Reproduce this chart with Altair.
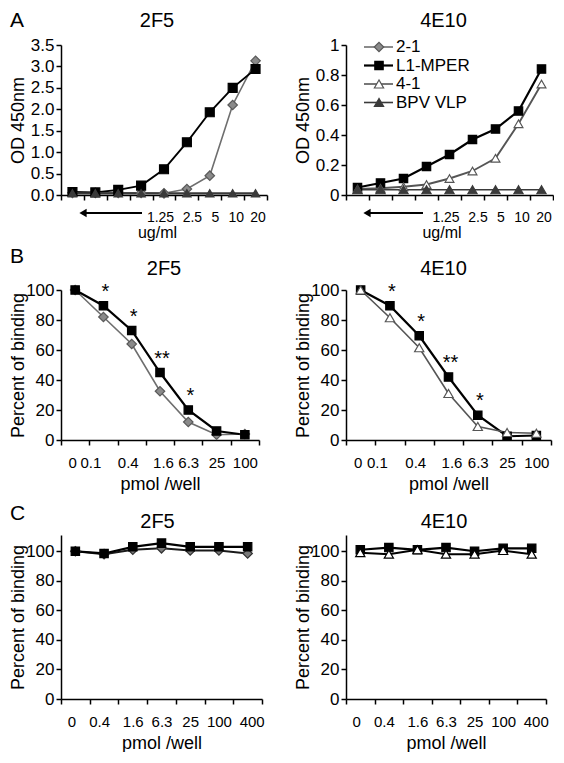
import altair as alt
import pandas as pd

FONT = "Liberation Sans"
SERIES = ["2-1", "L1-MPER", "4-1", "BPV VLP"]

# ---------------- Panel A : OD 450nm vs ug/ml ----------------
A_xlabels = ["", "", "", "", "1.25", "2.5", "5", "10", "20"]
A_2F5 = {
    "2-1":     [0.05, 0.05, 0.05, 0.05, 0.04, 0.14, 0.45, 2.10, 3.13],
    "L1-MPER": [0.07, 0.06, 0.12, 0.22, 0.60, 1.23, 1.93, 2.50, 2.94],
    "BPV VLP": [0.04, 0.04, 0.04, 0.04, 0.04, 0.04, 0.04, 0.04, 0.04],
}
A_4E10 = {
    "L1-MPER": [0.05, 0.08, 0.11, 0.19, 0.27, 0.37, 0.44, 0.56, 0.84],
    "4-1":     [0.04, 0.045, 0.055, 0.07, 0.11, 0.16, 0.245, 0.475, 0.74],
    "BPV VLP": [0.035, 0.035, 0.035, 0.035, 0.035, 0.035, 0.035, 0.035, 0.035],
}
A_2F5_ticks = [0, 0.5, 1.0, 1.5, 2.0, 2.5, 3.0, 3.5]
A_4E10_ticks = [0, 0.2, 0.4, 0.6, 0.8, 1.0]

# ---------------- Panel B : competition ----------------
B_xlabels = ["0", "0.1", "0.4", "1.6", "6.3", "25", "100"]
B_2F5 = {
    "2-1":     [100, 82, 64, 32.5, 12, 3.5, 4],
    "L1-MPER": [100, 89.5, 73, 45, 20, 6, 3.5],
}
B_4E10 = {
    "4-1":     [100, 81.5, 61.5, 31, 9, 5, 4.5],
    "L1-MPER": [100, 89.5, 69.5, 42, 16.5, 2.5, 3],
}
B_star_idx = [1, 2, 3, 4]
B_star_txt = ["*", "*", "**", "*"]

# ---------------- Panel C : control competition ----------------
C_xlabels = ["0", "0.4", "1.6", "6.3", "25", "100", "400"]
C_2F5 = {
    "2-1":     [100, 98, 101, 102, 100.5, 100.5, 98.5],
    "L1-MPER": [100, 98.5, 103, 105.5, 103, 103, 103],
}
C_4E10 = {
    "4-1":     [99, 98, 101, 98, 98, 100.5, 98],
    "L1-MPER": [101, 102.5, 101, 102.5, 100, 102, 102],
}
pct_ticks = [0, 20, 40, 60, 80, 100]

STYLE = {
    "2-1":     dict(shape="diamond", fill="#8a8a8a", stroke="#5a5a5a", line="#6e6e6e", lw=1.6, size=90),
    "L1-MPER": dict(shape="square", fill="#000000", stroke="#000000", line="#000000", lw=2.2, size=70),
    "4-1":     dict(shape="triangle-up", fill="#ffffff", stroke="#555555", line="#555555", lw=1.6, size=85),
    "BPV VLP": dict(shape="triangle-up", fill="#3a3a3a", stroke="#3a3a3a", line="#3a3a3a", lw=1.6, size=85),
}
STYLE_C = {
    "2-1":     dict(shape="diamond", fill="#7a7a7a", stroke="#333333", line="#1a1a1a", lw=2.0, size=90),
    "L1-MPER": dict(shape="square", fill="#000000", stroke="#000000", line="#000000", lw=2.2, size=70),
    "4-1":     dict(shape="triangle-up", fill="#ffffff", stroke="#000000", line="#000000", lw=2.0, size=85),
}

ONE = pd.DataFrame({"k": [0]})


def text_at(txt, x, y, size, align="center"):
    return alt.Chart(ONE).mark_text(fontSize=size, font=FONT, align=align, baseline="middle",
                                    color="black").encode(
        x=alt.value(x), y=alt.value(y), text=alt.value(txt))


def panel(data, xlabels, ydom, yvals, yfmt, ytitle, xtitle, title, w, h, style,
          tdx, ty, xlab_size, xtitle_size, xtitle_pad, xtitle_x=None, stars=None,
          letter=None, letter_y=0, arrow=None, legend=False, label_shift=None):
    order = [s for s in SERIES if s in data]
    rows = []
    for s in order:
        for i, v in enumerate(data[s]):
            rows.append({"xi": i, "value": v, "series": s})
    df = pd.DataFrame(rows)
    n = len(xlabels)
    lab_expr = "[" + ",".join("'%s'" % l for l in xlabels) + "][datum.value]"
    xaxis = dict(title=xtitle, tickBand="extent", labelExpr=lab_expr, labelAngle=0,
                 labelFontSize=xlab_size, labelPadding=10, tickSize=5,
                 titleFontSize=xtitle_size, titlePadding=xtitle_pad,
                 labelOverlap=False)
    if xtitle_x is not None:
        xaxis["titleX"] = xtitle_x
    if label_shift is not None:
        xaxis["labelOffset"] = {
            "condition": [{"test": "datum.value === %d" % k, "value": v} for k, v in label_shift],
            "value": 0,
        }
    x = alt.X("xi:O", bandPosition=0.5,
              scale=alt.Scale(type="band", domain=list(range(n)), paddingInner=0, paddingOuter=0),
              axis=alt.Axis(**xaxis))
    y = alt.Y("value:Q", scale=alt.Scale(domain=ydom, nice=False, zero=False),
              axis=alt.Axis(values=yvals, format=yfmt, title=ytitle, labelFontSize=17,
                            labelPadding=2, tickSize=5, titleFontSize=18, titlePadding=2,
                            minExtent=32, maxExtent=32, labelOverlap=False))
    dom = order
    color = alt.Color("series:N", scale=alt.Scale(domain=dom, range=[style[s]["line"] for s in dom]), legend=None)
    sw = alt.StrokeWidth("series:N", scale=alt.Scale(domain=dom, range=[style[s]["lw"] for s in dom]), legend=None)
    lines = alt.Chart(df).mark_line().encode(x=x, y=y, color=color, strokeWidth=sw, detail="series:N")
    pts = alt.Chart(df).mark_point(filled=True, opacity=1, strokeWidth=1.2).encode(
        x=x, y=y,
        shape=alt.Shape("series:N", scale=alt.Scale(domain=dom, range=[style[s]["shape"] for s in dom]), legend=None),
        fill=alt.Fill("series:N", scale=alt.Scale(domain=dom, range=[style[s]["fill"] for s in dom]), legend=None),
        stroke=alt.Stroke("series:N", scale=alt.Scale(domain=dom, range=[style[s]["stroke"] for s in dom]), legend=None),
        size=alt.Size("series:N", scale=alt.Scale(domain=dom, range=[style[s]["size"] for s in dom]), legend=None),
    )
    layers = [lines, pts]
    if stars is not None:
        idx, txt = stars
        sdf = pd.DataFrame({"xi": idx, "value": [data["L1-MPER"][i] for i in idx], "t": txt})
        layers.append(alt.Chart(sdf).mark_text(fontSize=20, font=FONT, dy=-14, dx=2,
                                                baseline="middle", color="black").encode(x=x, y=y, text="t:N"))
    if arrow is not None:
        ax0, ax1 = arrow
        layers.append(alt.Chart(ONE).mark_rule(color="black", strokeWidth=2).encode(
            x=alt.value(ax0 + 4), x2=alt.value(ax1), y=alt.value(h + 18)))
        layers.append(alt.Chart(ONE).mark_point(shape="triangle-left", filled=True, color="black",
                                                opacity=1, size=70).encode(
            x=alt.value(ax0 + 4), y=alt.value(h + 18)))
    # panel title and panel letter
    layers.append(text_at(title, w / 2 + tdx, ty, 20))
    if letter is not None:
        layers.append(text_at(letter, -51, letter_y, 21, align="left"))
    if legend:
        for i, s in enumerate(SERIES):
            st = STYLE[s]
            yy = 2 + 18.5 * i
            layers.append(alt.Chart(ONE).mark_rule(color=st["line"], strokeWidth=st["lw"]).encode(
                x=alt.value(18), x2=alt.value(47), y=alt.value(yy)))
            layers.append(alt.Chart(ONE).mark_point(shape=st["shape"], filled=True, fill=st["fill"],
                                                    stroke=st["stroke"], strokeWidth=1.2,
                                                    size=st["size"], opacity=1).encode(
                x=alt.value(33), y=alt.value(yy)))
            layers.append(text_at(s, 50, yy, 17, align="left"))
    return alt.layer(*layers).properties(width=w, height=h)


hA, hB, hC = 150, 150, 164
wA1, wA2, wB1, wB2, wC1, wC2 = 206, 207, 198, 205, 201, 200
A_shift = [(4, -4), (5, 5), (6, 5), (7, 3), (8, 2)]
B_shift = [(0, -3), (1, -13), (2, -4), (3, 3)]
C_shift = [(0, -4), (1, -5), (6, 4)]

A1 = panel(A_2F5, A_xlabels, [0, 3.5], A_2F5_ticks, ".1f", "OD 450nm", "ug/ml", "2F5", wA1, hA, STYLE,
           -7, -24, 14, 16, 0, xtitle_x=wA1 / 2 - 7, letter="A", letter_y=-24, arrow=(18, 81),
           label_shift=A_shift)
A2 = panel(A_4E10, A_xlabels, [0, 1], A_4E10_ticks, ".1~f", "OD 450nm", "ug/ml", "4E10", wA2, hA, STYLE,
           -6, -24, 14, 16, 0, xtitle_x=wA2 / 2 - 8, arrow=(17, 77), legend=True, label_shift=A_shift)
B1 = panel(B_2F5, B_xlabels, [0, 100], pct_ticks, "d", "Percent of binding", "pmol /well", "2F5", wB1, hB,
           STYLE, 4, -21, 15, 18, 5, stars=(B_star_idx, B_star_txt), letter="B", letter_y=-33,
           label_shift=B_shift)
B2 = panel(B_4E10, B_xlabels, [0, 100], pct_ticks, "d", "Percent of binding", "pmol /well", "4E10", wB2, hB,
           STYLE, -5, -21, 15, 18, 5, stars=(B_star_idx, B_star_txt), label_shift=B_shift)
C1 = panel(C_2F5, C_xlabels, [0, 111], pct_ticks, "d", "Percent of binding", "pmol /well", "2F5", wC1, hC,
           STYLE_C, -4, -13, 15, 18, 5, letter="C", letter_y=-21, label_shift=C_shift)
C2 = panel(C_4E10, C_xlabels, [0, 111], pct_ticks, "d", "Percent of binding", "pmol /well", "4E10", wC2, hC,
           STYLE_C, -2, -13, 15, 18, 5, label_shift=C_shift)

maxL = max(wA1, wB1, wC1)
chart = alt.concat(A1, A2, B1, B2, C1, C2, columns=2, bounds="flush", align="each",
                   spacing={"row": 95, "column": 345 - 60 - maxL}).properties(
    padding={"left": 0, "top": 2, "right": 0, "bottom": 0}
).resolve_scale(
    color="independent", fill="independent", stroke="independent",
    shape="independent", size="independent", strokeWidth="independent"
).configure_view(stroke=None).configure_axis(
    labelFont=FONT, titleFont=FONT, labelColor="black", titleColor="black",
    domainColor="black", tickColor="black", domainWidth=1.5, tickWidth=1.5,
    grid=False, titleFontWeight="normal"
)

chart.save("out.html", embed_options={"renderer": "svg", "actions": False})
